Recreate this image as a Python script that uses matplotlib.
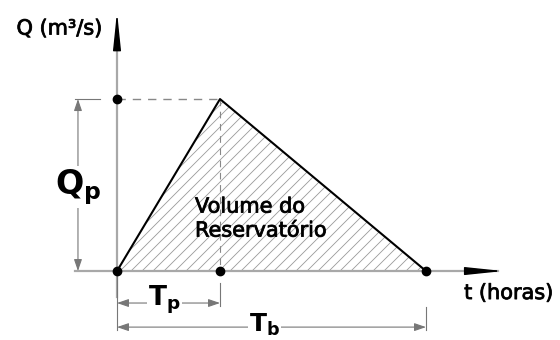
import numpy as np
import matplotlib
matplotlib.use('Agg')
import matplotlib.pyplot as plt
import matplotlib.patheffects as pe
from matplotlib.patches import Polygon

# hidrograma triangular (Tp = 1, Tb = 3, Qp = 1)
t_hidro = [0.0, 1.0, 3.0]
q_hidro = [0.0, 1.0, 0.0]
Tp = t_hidro[1]
Tb = t_hidro[2]
Qp = q_hidro[1]

plt.rcParams['font.family'] = ['DejaVu Sans']
plt.rcParams['mathtext.fontset'] = 'dejavusans'

fig = plt.figure(figsize=(5.6, 3.4), dpi=100)
ax = fig.add_axes([0, 0, 1, 1])
ax.set_xlim(-1.136, 4.301)
ax.set_ylim(-0.401, 1.576)
ax.axis('off')

axis_gray = '#a8a8a8'
dim_gray = '#777777'
thick = [pe.withStroke(linewidth=0.6, foreground='#111111')]

# eixos
ax.plot([0, 0], [-0.15, 1.45], color=axis_gray, lw=1.6, zorder=2)
ax.plot([-0.41, 3.70], [0, 0], color=axis_gray, lw=1.6, zorder=2)
head = dict(arrowstyle='-|>,head_length=1.15,head_width=0.12', color='black',
            lw=1.0, shrinkA=0, shrinkB=0, mutation_scale=20)
ax.annotate('', xy=(0, 1.506), xytext=(0, 1.30), arrowprops=head)
ax.annotate('', xy=(3.75, 0), xytext=(3.40, 0), arrowprops=head)

# hachura do volume
tri = Polygon(np.column_stack([t_hidro, q_hidro]), closed=True,
              facecolor='none', edgecolor='none')
ax.add_patch(tri)
px_t, px_q = 103.0, 172.0
step = 11.0 / px_t
for c in np.arange(-2.0, Tb + 0.1, step):
    ln, = ax.plot([c, c + 2.0], [0, 2.0 * px_t / px_q], color='#9a9a9a', lw=0.6, zorder=1)
    ln.set_clip_path(tri)

# hidrograma
ax.plot(t_hidro, q_hidro, color='black', lw=1.5, zorder=3)
ax.plot([0, Tp], [Qp, Qp], color='#888888', lw=1.0, ls=(0, (6, 5)), zorder=2)
ax.plot([Tp, Tp], [Qp, 0], color='#888888', lw=0.8, ls=(0, (6, 5)), zorder=2)
ax.plot([0, Tp, Tb, 0], [0, 0, 0, Qp], 'o', color='black', ms=6, zorder=4)

# cotas
dim = dict(arrowstyle='<|-|>,head_length=0.35,head_width=0.12', color=dim_gray,
           lw=0.8, shrinkA=0, shrinkB=0, mutation_scale=20)
ax.plot([-0.41, -0.165], [Qp, Qp], color=dim_gray, lw=0.8)
ax.annotate('', xy=(-0.379, Qp), xytext=(-0.379, 0), arrowprops=dim)
ax.plot([0, 0], [0, -0.343], color=dim_gray, lw=0.8)
ax.plot([Tp, Tp], [-0.07, -0.203], color=dim_gray, lw=0.8)
ax.plot([Tb, Tb], [-0.209, -0.343], color=dim_gray, lw=0.8)
ax.annotate('', xy=(0, -0.186), xytext=(Tp, -0.186), arrowprops=dim)
ax.annotate('', xy=(0, -0.326), xytext=(Tb, -0.326), arrowprops=dim)

wbox = dict(facecolor='white', edgecolor='none', pad=1)
ax.text(-0.38, 0.49, r'$\mathbf{Q_p}$', fontsize=24, ha='center', va='center',
        bbox=wbox, zorder=5)
ax.text(0.46, -0.17, r'$\mathbf{T_p}$', fontsize=19, ha='center', va='center',
        bbox=wbox, zorder=5)
ax.text(1.43, -0.392, r'$\mathbf{T_b}$', fontsize=18, ha='center', va='bottom',
        bbox=dict(facecolor='white', edgecolor='none', pad=0.5), zorder=5)

ax.text(-0.56, 1.41, 'Q (m³/s)', fontsize=15, ha='center', va='center',
        path_effects=thick)
ax.text(3.37, -0.128, 't (horas)', fontsize=15, ha='left', va='center',
        path_effects=thick)
ax.text(0.757, 0.305, 'Volume do\nReservatório', fontsize=15, ha='left',
        va='center', linespacing=1.25, zorder=5, path_effects=thick)

fig.savefig('out.png', dpi=100)
